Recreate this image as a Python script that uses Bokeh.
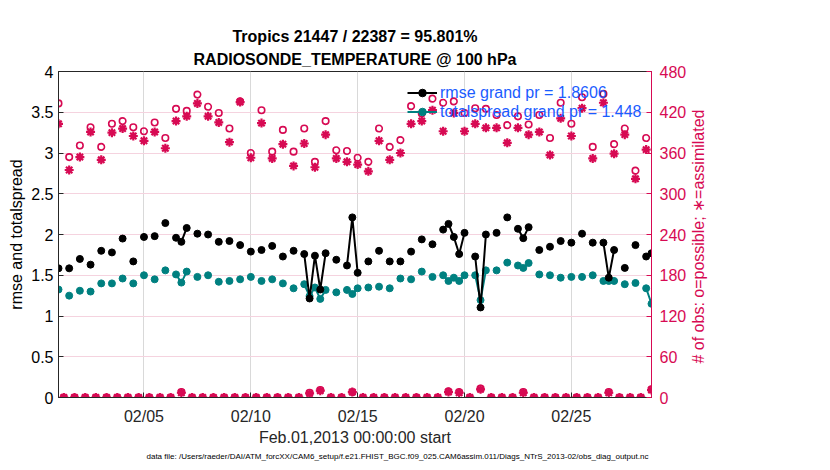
import numpy as np
import pandas as pd
from bokeh.plotting import figure
from bokeh.models import (ColumnDataSource, Range1d, LinearAxis, FixedTicker,
                          DatetimeTickFormatter, Legend, LegendItem, Title)
from bokeh.embed import file_html
from bokeh.resources import INLINE

# ---------------- data ----------------
start_time = "2013-02-01 00:00"
end_time = "2013-02-28 18:00"
n_bins = 112          # 6-hourly bins
bin_freq = "6h"

# values at 00Z / 12Z (every 12 h from Feb 01 00Z)
rmse_syn = [1.585, 1.585, 1.70, 1.63, 1.80, 1.78, 1.95, 1.67, 1.97, 1.98,
            2.14, 1.96, 2.08, 2.01, 2.00, 1.91, 1.92, 1.87, 1.79, 1.81,
            1.86, 1.73, 1.80, 1.76, 1.74, 1.77, 1.69, 1.62, 1.53, 1.67,
            1.80, 1.67, 1.67, 1.79, 1.94, 1.88, 2.06, 1.97, 2.02, 1.73,
            2.00, 2.02, 2.21, 2.07, 2.09, 1.81, 1.85, 1.92, 1.90, 2.01,
            1.90, 1.90, 1.81, 1.59, 1.87, 1.73]
spread_syn = [1.325, 1.25, 1.31, 1.30, 1.40, 1.40, 1.46, 1.40, 1.50, 1.45,
              1.56, 1.51, 1.545, 1.48, 1.50, 1.42, 1.43, 1.45, 1.48, 1.43,
              1.45, 1.40, 1.34, 1.39, 1.35, 1.32, 1.29, 1.32, 1.34, 1.35,
              1.36, 1.34, 1.46, 1.45, 1.545, 1.48, 1.50, 1.47, 1.50, 1.50,
              1.56, 1.56, 1.655, 1.62, 1.65, 1.51, 1.50, 1.47, 1.48, 1.48,
              1.50, 1.43, 1.43, 1.39, 1.405, 1.34]
possible_syn = [433, 354, 371, 398, 369, 403, 407, 398, 392, 405,
                382, 425, 422, 446, 428, 419, 396, 436, 360, 423,
                362, 394, 362, 396, 347, 407, 364, 363, 353, 347,
                396, 369, 379, 429, 418, 440, 434, 436, 419, 426,
                425, 416, 401, 414, 402, 416, 382, 434, 403, 442,
                369, 447, 373, 396, 334, 382]
assim_syn = [403, 335, 354, 391, 350, 390, 396, 385, 378, 391,
             367, 407, 414, 433, 414, 405, 376, 435, 353, 404,
             352, 373, 341, 374, 339, 387, 352, 347, 343, 333,
             378, 350, 360, 403, 407, 423, 392, 419, 392, 403,
             397, 397, 375, 397, 387, 391, 357, 411, 385, 426,
             352, 434, 359, 387, 322, 365]

# values at 06Z / 18Z bins that contain observations (key: days since start)
rmse_off = {5.75: 1.91, 11.75: 1.215, 12.25: 1.325, 13.75: 2.21, 18.25: 2.13,
            18.75: 1.76, 19.75: 1.105, 21.75: 1.955, 25.75: 1.47, 27.75: 1.77}
spread_off = {5.75: 1.41, 11.75: 1.245, 12.25: 1.21, 13.75: 1.27, 18.25: 1.43,
              18.75: 1.43, 19.75: 1.195, 21.75: 1.59, 25.75: 1.43, 27.75: 1.15}
possible_off = {5.75: 8, 11.75: 7, 12.25: 11, 13.75: 8, 18.25: 9,
                18.75: 8, 19.75: 13, 21.75: 8, 25.75: 8, 27.75: 12}
assim_off = {5.75: 7, 11.75: 6, 12.25: 10, 13.75: 8, 18.25: 8,
             18.75: 7, 19.75: 12, 21.75: 7, 25.75: 7, 27.75: 11}

left_ticks = [0, 0.5, 1, 1.5, 2, 2.5, 3, 3.5, 4]
left_tick_labels = ["0", "0.5", "1", "1.5", "2", "2.5", "3", "3.5", "4"]
right_ticks = [0, 60, 120, 180, 240, 300, 360, 420, 480]
x_tick_dates = ["2013-02-05", "2013-02-10", "2013-02-15", "2013-02-20", "2013-02-25"]

title_line1 = "Tropics 21447 / 22387 = 95.801%"
title_line2 = "RADIOSONDE_TEMPERATURE @ 100 hPa"
xlabel = "Feb.01,2013 00:00:00 start"
ylabel_left = "rmse and totalspread"
ylabel_right = "# of obs: o=possible; \u2217=assimilated"
legend_rmse = "rmse grand pr = 1.8606"
legend_spread = "totalspread grand pr = 1.448"
data_file = ("data file: /Users/raeder/DAI/ATM_forcXX/CAM6_setup/f.e21.FHIST_BGC.f09_025."
             "CAM6assim.011/Diags_NTrS_2013-02/obs_diag_output.nc")

# ---------------- assemble ----------------
times = pd.date_range(start_time, periods=n_bins, freq=bin_freq)


def assemble(syn, off, missing):
    out = []
    for i in range(n_bins):
        if i % 2 == 0:
            out.append(syn[i // 2])
        else:
            out.append(off.get(i / 4.0, missing))
    return out


src = ColumnDataSource(dict(
    t=times,
    rmse=assemble(rmse_syn, rmse_off, np.nan),
    spread=assemble(spread_syn, spread_off, np.nan),
    possible=assemble(possible_syn, possible_off, 0),
    assim=assemble(assim_syn, assim_off, 0),
))

RED = "#d70a53"
TEAL = "#008080"
BLUE = "#1a5cff"
DARK = "#262626"
FONT = "Liberation Sans"

FW, FH = 593, 326
p = figure(x_axis_type="datetime", output_backend="svg", toolbar_location=None,
           title=None, frame_width=FW, frame_height=FH,
           min_border_left=58, min_border_right=165, min_border_top=71,
           min_border_bottom=66,
           x_range=Range1d(pd.Timestamp(start_time), pd.Timestamp(end_time)),
           y_range=Range1d(0, 4))
p.extra_y_ranges = {"obs": Range1d(right_ticks[0], right_ticks[-1])}
p.background_fill_color = "white"
p.border_fill_color = "white"
p.outline_line_color = DARK
p.outline_line_width = 1

p.add_layout(Title(text=title_line2, align="center", text_font_size="16px",
                   text_font_style="bold", text_font=FONT, text_color="black",
                   standoff=7), "above")
p.add_layout(Title(text=title_line1, align="center", text_font_size="16px",
                   text_font_style="bold", text_font=FONT, text_color="black",
                   standoff=1), "above")

# x axis
xa = p.xaxis[0]
xa.ticker = FixedTicker(ticks=[pd.Timestamp(d).value / 1e6 for d in x_tick_dates])
fmt = "%m/%d"
xa.formatter = DatetimeTickFormatter(days=fmt, months=fmt, hours=fmt, hourmin=fmt,
                                     minutes=fmt, minsec=fmt, seconds=fmt,
                                     milliseconds=fmt, microseconds=fmt, years=fmt)
xa.axis_label = xlabel
xa.minor_tick_line_color = None
xa.major_tick_in = 5
xa.major_tick_out = 0
xa.major_label_standoff = 10
xa.axis_label_standoff = 1
xa.major_label_text_font_size = "16px"
xa.axis_label_text_font_size = "16px"
xa.major_label_text_font = FONT
xa.axis_label_text_font = FONT
xa.axis_label_text_font_style = "normal"
xa.major_label_text_color = DARK
xa.axis_label_text_color = DARK
xa.axis_line_color = DARK
xa.major_tick_line_color = DARK

# left y axis
ya = p.yaxis[0]
ya.ticker = FixedTicker(ticks=left_ticks)
ya.major_label_overrides = {t: l for t, l in zip(left_ticks, left_tick_labels)}
ya.axis_label = ylabel_left
ya.minor_tick_line_color = None
ya.major_tick_in = 5
ya.major_tick_out = 0
ya.major_label_standoff = 5
ya.axis_label_standoff = 3
ya.major_label_text_font_size = "16px"
ya.axis_label_text_font_size = "16px"
ya.major_label_text_font = FONT
ya.axis_label_text_font = FONT
ya.axis_label_text_font_style = "normal"
ya.major_label_text_color = "black"
ya.axis_label_text_color = "black"
ya.axis_line_color = DARK
ya.major_tick_line_color = DARK

# right y axis (obs counts)
ra = LinearAxis(y_range_name="obs", ticker=FixedTicker(ticks=right_ticks))
ra.minor_tick_line_color = None
ra.major_tick_in = 5
ra.major_tick_out = 0
ra.major_label_standoff = 8
ra.major_label_text_font_size = "16px"
ra.major_label_text_font = FONT
ra.major_label_text_color = RED
ra.axis_line_color = RED
ra.major_tick_line_color = RED
p.add_layout(ra, "right")

# right axis title, reading bottom-to-top: a tick-less axis carrying one
# rotated label; its anchor is near its start, so it sits low on the axis
label_anchor_obs = 50
rl = LinearAxis(y_range_name="obs", ticker=FixedTicker(ticks=[label_anchor_obs]),
                major_label_overrides={label_anchor_obs: ylabel_right})
rl.axis_line_color = None
rl.major_tick_line_color = None
rl.minor_tick_line_color = None
rl.major_label_orientation = np.pi / 2
rl.major_label_standoff = 3
rl.major_label_text_font_size = "16px"
rl.major_label_text_font = FONT
rl.major_label_text_color = RED
p.add_layout(rl, "right")

# grids
p.xgrid.ticker = xa.ticker
p.xgrid.grid_line_color = "#d9d9d9"
p.ygrid.ticker = ya.ticker
p.ygrid.grid_line_color = "#f5d3df"

# data file note
p.add_layout(Title(text=data_file, align="left", offset=88, text_font_size="8px",
                   text_font_style="normal", text_font=FONT, text_color="black",
                   standoff=3), "below")

# glyphs
s_pos = p.scatter("t", "possible", source=src, y_range_name="obs", marker="circle",
                  size=6.5, fill_color=None, line_color=RED, line_width=1.6)
s_ass = p.scatter("t", "assim", source=src, y_range_name="obs", marker="asterisk",
                  size=9, line_color=RED, line_width=2.2)

l_sp = p.line("t", "spread", source=src, line_color=TEAL, line_width=2)
s_sp = p.scatter("t", "spread", source=src, marker="circle", size=7,
                 fill_color=TEAL, line_color=TEAL)
l_rm = p.line("t", "rmse", source=src, line_color="black", line_width=2)
s_rm = p.scatter("t", "rmse", source=src, marker="circle", size=7,
                 fill_color="black", line_color="black")

legend = Legend(items=[LegendItem(label=legend_rmse, renderers=[l_rm, s_rm]),
                       LegendItem(label=legend_spread, renderers=[l_sp, s_sp])],
                location=(349, 276), padding=0, margin=0, spacing=0,
                glyph_width=30, glyph_height=19, label_height=19, label_standoff=3,
                label_text_font_size="16px", label_text_font=FONT,
                label_text_color=BLUE, background_fill_alpha=0,
                border_line_color=None)
p.add_layout(legend)

open("out.html", "w").write(file_html(p, INLINE))
